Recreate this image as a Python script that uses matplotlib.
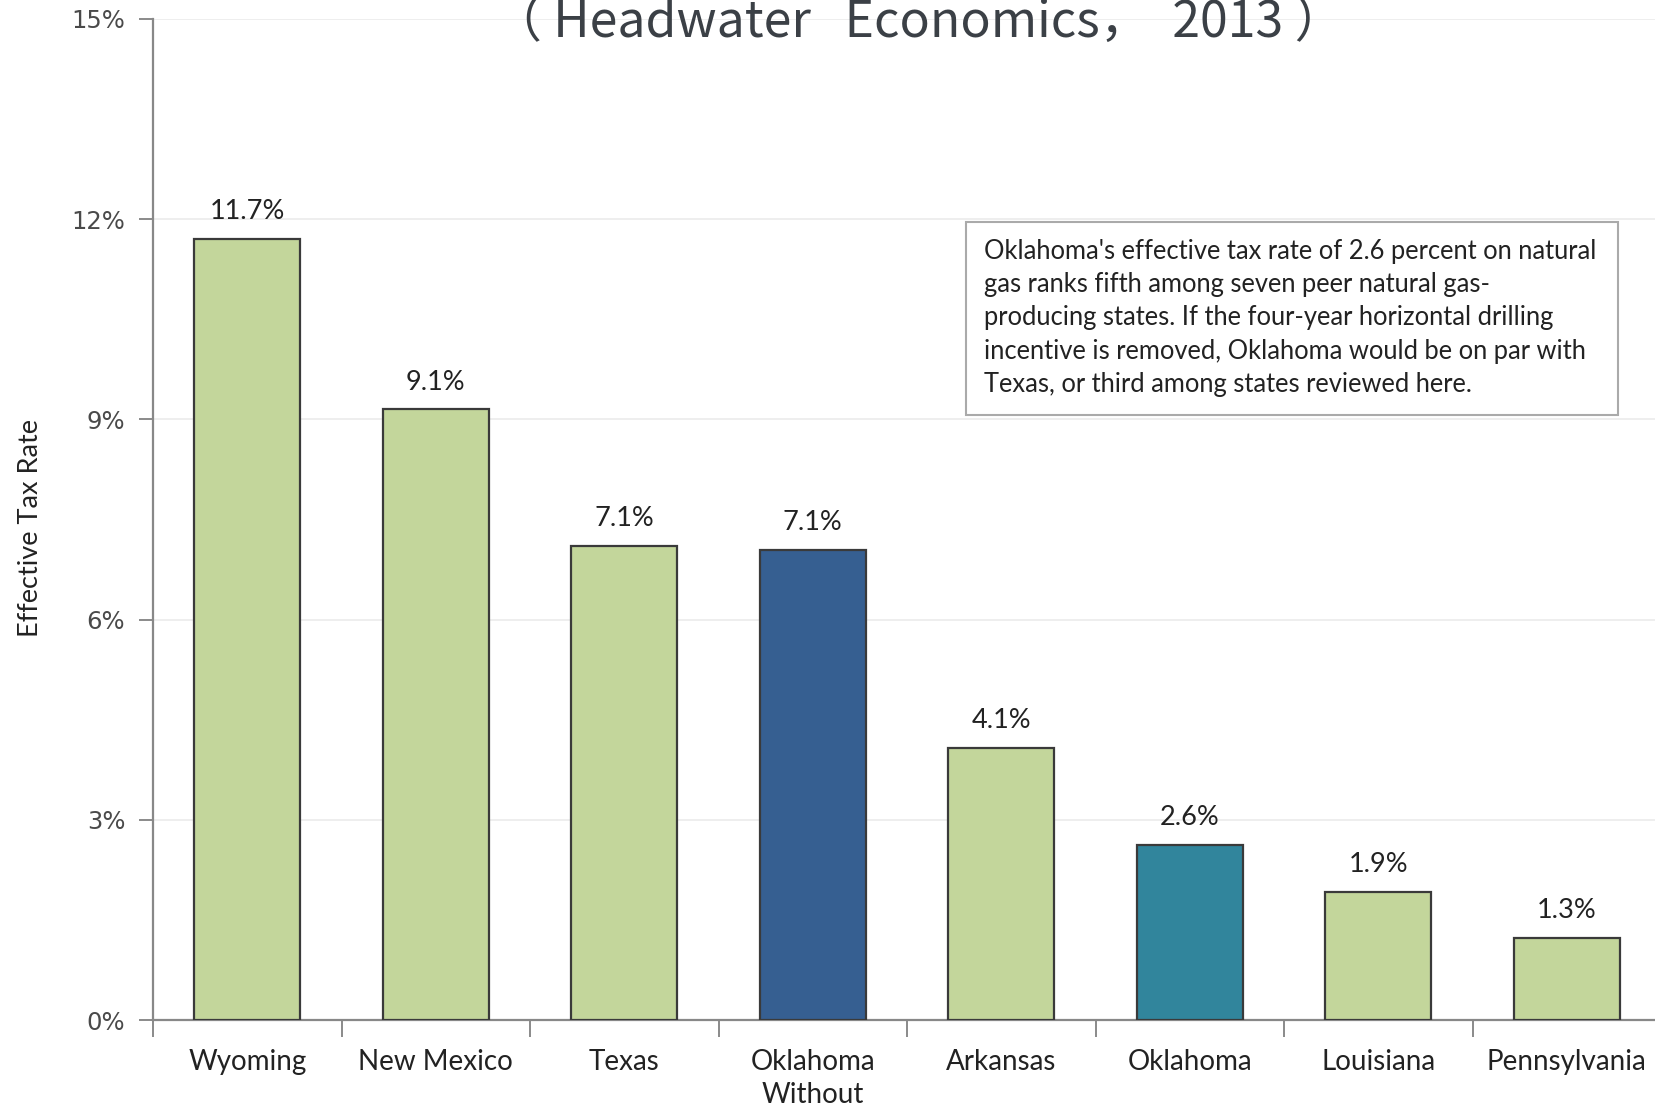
import matplotlib
matplotlib.use("Agg")
import matplotlib.pyplot as plt
from matplotlib.patches import Rectangle
from matplotlib.ticker import FixedLocator, FuncFormatter

states = ["Wyoming", "New Mexico", "Texas", "Oklahoma\nWithout", "Arkansas",
          "Oklahoma", "Louisiana", "Pennsylvania"]
rates = [11.7, 9.15, 7.1, 7.05, 4.08, 2.62, 1.92, 1.23]
rate_labels = ["11.7%", "9.1%", "7.1%", "7.1%", "4.1%", "2.6%", "1.9%", "1.3%"]
bar_colors = ["#C3D69B", "#C3D69B", "#C3D69B", "#365F91", "#C3D69B",
              "#31859C", "#C3D69B", "#C3D69B"]
y_ticks = [0, 3, 6, 9, 12, 15]
title = "（ Headwater   Economics，  2013 ）"
note = ("Oklahoma's effective tax rate of 2.6 percent on natural\n"
        "gas ranks fifth among seven peer natural gas-\n"
        "producing states. If the four-year horizontal drilling\n"
        "incentive is removed, Oklahoma would be on par with\n"
        "Texas, or third among states reviewed here.")

W, H = 1655, 1108
fig = plt.figure(figsize=(W / 100, H / 100), dpi=100)
fig.patch.set_facecolor("white")

left_px, right_px, top_px, bot_px = 153, 1661, 19, 1020
ax = fig.add_axes([left_px / W, 1 - bot_px / H, (right_px - left_px) / W,
                   (bot_px - top_px) / H])

x = list(range(len(states)))
ax.bar(x, rates, width=0.56, color=bar_colors, edgecolor="#3a3a3a",
       linewidth=1.6, zorder=3)
for xi, r, lab in zip(x, rates, rate_labels):
    ax.text(xi, r + 0.41, lab, ha="center", va="center", fontsize=19.5,
            family="Lato", color="#222222")

ax.set_xlim(-0.5, len(states) - 0.5)
ax.set_ylim(0, 15)
ax.set_yticks(y_ticks)
ax.yaxis.set_major_formatter(FuncFormatter(lambda v, p: f"{int(v)}%"))
ax.tick_params(axis="y", length=10, width=1.2, color="#777777", pad=10,
               labelsize=17.5, labelcolor="#4a4a4a")
for t in ax.get_yticklabels():
    t.set_family("DejaVu Sans")

ax.set_xticks(x)
ax.set_xticklabels(states, fontsize=20, family="Lato", color="#222222",
                   linespacing=1.32)
ax.tick_params(axis="x", which="major", length=0, pad=21)
ax.xaxis.set_minor_locator(FixedLocator([i - 0.5 for i in x]))
ax.tick_params(axis="x", which="minor", length=12, width=1.2, color="#777777")

ax.grid(axis="y", color="#ededed", linewidth=1.3, zorder=0)
for s in ["top", "right"]:
    ax.spines[s].set_visible(False)
ax.spines["left"].set_color("#888888")
ax.spines["left"].set_linewidth(1.6)
ax.spines["bottom"].set_color("#888888")
ax.spines["bottom"].set_linewidth(1.6)

fig.text(30 / W, 1 - 528 / H, "Effective Tax Rate", rotation=90, ha="center",
         va="center", fontsize=19.5, family="Lato", color="#222222")

fig.text(918 / W, 1 - 37 / H, title, ha="center", va="baseline", fontsize=36,
         family=["Noto Sans CJK SC", "DejaVu Sans"], color="#3b4046")

bx0, by0, bx1, by1 = 966, 222, 1618, 415
fig.patches.append(Rectangle((bx0 / W, 1 - by1 / H), (bx1 - bx0) / W,
                             (by1 - by0) / H, transform=fig.transFigure,
                             facecolor="white", edgecolor="#aaaaaa",
                             linewidth=1.5, zorder=5))
fig.text(984 / W, 1 - 239 / H, note, ha="left", va="top", fontsize=18.4,
         family="Lato", color="#222222", linespacing=1.41, zorder=6)

fig.savefig("out.png", dpi=100)
